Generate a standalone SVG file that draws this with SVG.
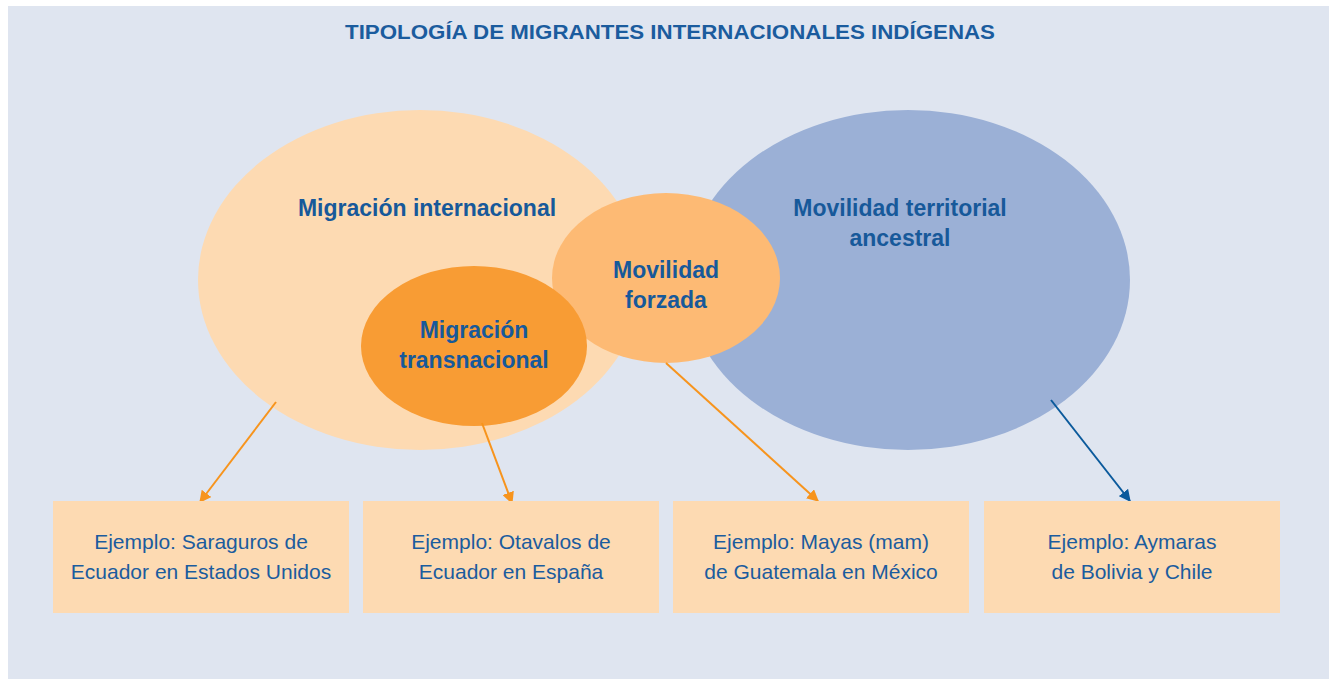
<svg xmlns="http://www.w3.org/2000/svg" width="1329" height="679" viewBox="0 0 1329 679">
<defs>
<style>
.title{font-family:"Liberation Sans",Arial,sans-serif;font-weight:bold;font-size:20px;fill:#1B5C9E;text-anchor:middle}
.lbl{font-family:"Liberation Sans",Arial,sans-serif;font-weight:bold;font-size:23px;fill:#17599A;text-anchor:middle}
.box{fill:#FDDAB2}
.btxt{font-family:"Liberation Sans",Arial,sans-serif;font-size:21px;fill:#1B5C9E;text-anchor:middle}
.ao{stroke:#F7941D;stroke-width:2;fill:none}
.ab{stroke:#0B5A9C;stroke-width:2;fill:none}
</style>
<marker id="mo" viewBox="0 0 10 10" refX="9" refY="5" markerWidth="12" markerHeight="12" markerUnits="userSpaceOnUse" orient="auto"><path d="M0,0 L10,5 L0,10 Z" fill="#F7941D"/></marker>
<marker id="mb" viewBox="0 0 10 10" refX="9" refY="5" markerWidth="12" markerHeight="12" markerUnits="userSpaceOnUse" orient="auto"><path d="M0,0 L10,5 L0,10 Z" fill="#0B5A9C"/></marker>
</defs>
<rect x="0" y="0" width="1329" height="679" fill="#FFFFFF"/>
<rect x="8" y="6" width="1321" height="673" fill="#DFE5F0"/>
<text class="title" x="670" y="39" textLength="650" lengthAdjust="spacingAndGlyphs">TIPOLOGÍA DE MIGRANTES INTERNACIONALES INDÍGENAS</text>
<g id="n-internacional">
<ellipse cx="420" cy="280" rx="222" ry="170" fill="#FDDAB2"/>
<text class="lbl" x="427" y="216">Migración internacional</text>
</g>
<g id="n-ancestral">
<ellipse cx="908" cy="280" rx="222" ry="170" fill="#9BB0D6"/>
<text class="lbl" x="900" y="216">Movilidad territorial</text>
<text class="lbl" x="900" y="246">ancestral</text>
</g>
<g id="n-forzada">
<ellipse cx="666" cy="278" rx="114" ry="85" fill="#FDBA74"/>
<text class="lbl" x="666" y="278">Movilidad</text>
<text class="lbl" x="666" y="308">forzada</text>
</g>
<g id="n-transnacional">
<ellipse cx="474" cy="346" rx="113" ry="80" fill="#F89C34"/>
<text class="lbl" x="474" y="338">Migración</text>
<text class="lbl" x="474" y="368">transnacional</text>
</g>
<g id="connectors">
<line class="ao" x1="276" y1="402" x2="200" y2="502" marker-end="url(#mo)"/>
<line class="ao" x1="482" y1="423" x2="512" y2="503" marker-end="url(#mo)"/>
<line class="ao" x1="666" y1="363" x2="818" y2="501" marker-end="url(#mo)"/>
<line class="ab" x1="1051" y1="400" x2="1130" y2="501" marker-end="url(#mb)"/>
</g>
<g id="b1">
<rect class="box" x="53" y="501" width="296" height="112"/>
<text class="btxt" x="201" y="549">Ejemplo: Saraguros de</text>
<text class="btxt" x="201" y="579">Ecuador en Estados Unidos</text>
</g>
<g id="b2">
<rect class="box" x="363" y="501" width="296" height="112"/>
<text class="btxt" x="511" y="549">Ejemplo: Otavalos de</text>
<text class="btxt" x="511" y="579">Ecuador en España</text>
</g>
<g id="b3">
<rect class="box" x="673" y="501" width="296" height="112"/>
<text class="btxt" x="821" y="549">Ejemplo: Mayas (mam)</text>
<text class="btxt" x="821" y="579">de Guatemala en México</text>
</g>
<g id="b4">
<rect class="box" x="984" y="501" width="296" height="112"/>
<text class="btxt" x="1132" y="549">Ejemplo: Aymaras</text>
<text class="btxt" x="1132" y="579">de Bolivia y Chile</text>
</g>
</svg>
